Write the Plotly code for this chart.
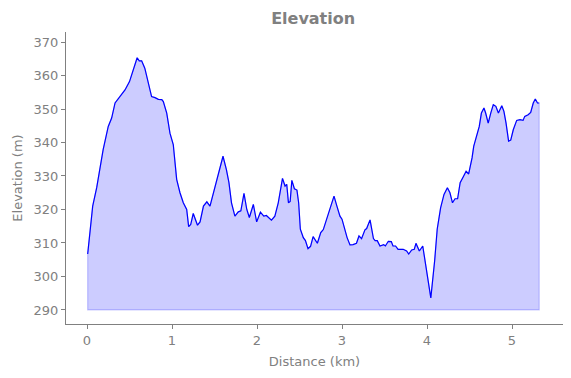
import plotly.graph_objects as go

distance_km = [0.008, 0.035, 0.067, 0.114, 0.145, 0.19, 0.25, 0.29, 0.33, 0.39, 0.447, 0.5, 0.545, 0.59,
               0.615, 0.643, 0.68, 0.72, 0.76, 0.8, 0.84, 0.88, 0.898, 0.938, 0.976, 1.015, 1.035, 1.055,
               1.094, 1.133, 1.173, 1.196, 1.22, 1.25, 1.3, 1.33, 1.37, 1.41, 1.447, 1.486, 1.526, 1.565,
               1.6, 1.64, 1.67, 1.70, 1.74, 1.78, 1.81, 1.847, 1.88, 1.91, 1.957, 1.996, 2.04, 2.08, 2.11,
               2.17, 2.21, 2.25, 2.30, 2.33, 2.35, 2.37, 2.39, 2.41, 2.44, 2.47, 2.49, 2.51, 2.545, 2.57,
               2.60, 2.63, 2.66, 2.71, 2.75, 2.78, 2.82, 2.86, 2.906, 2.94, 2.976, 3.0, 3.035, 3.06, 3.094,
               3.13, 3.17, 3.2, 3.23, 3.27, 3.29, 3.33, 3.37, 3.39, 3.415, 3.447, 3.49, 3.51, 3.545, 3.58,
               3.6, 3.63, 3.66, 3.72, 3.76, 3.785, 3.82, 3.85, 3.87, 3.91, 3.95, 4.0, 4.045, 4.09, 4.12,
               4.16, 4.2, 4.24, 4.27, 4.30, 4.33, 4.36, 4.39, 4.43, 4.46, 4.49, 4.53, 4.55, 4.585, 4.615,
               4.64, 4.67, 4.69, 4.72, 4.75, 4.78, 4.81, 4.84, 4.88, 4.905, 4.93, 4.96, 4.985, 5.015, 5.055,
               5.094, 5.13, 5.15, 5.19, 5.22, 5.25, 5.274, 5.30, 5.32]
elevation_m = [306.7, 314.1, 321.0, 326.5, 331.0, 337.9, 344.8, 347.3, 351.8, 353.7, 355.7, 358.2, 361.7, 365.3,
               364.4, 364.4, 362.2, 357.7, 353.7, 353.4, 352.9, 352.8, 352.2, 348.8, 342.8, 339.4, 333.9, 329.0,
               325.0, 322.0, 320.0, 314.9, 315.5, 318.8, 315.3, 316.3, 321.0, 322.3, 321.0, 325.0, 329.0, 332.9,
               335.9, 331.9, 328.0, 322.0, 318.0, 319.3, 319.6, 324.8, 320.0, 317.6, 321.5, 316.3, 319.2, 318.0, 318.2,
               316.8, 318.0, 322.0, 329.3, 327.0, 327.5, 322.0, 322.4, 328.7, 326.2, 325.8, 322.0, 314.1, 311.6, 310.7,
               308.3, 309.0, 311.9, 309.9, 313.1, 314.0, 317.1, 320.0, 324.0, 321.0, 318.0, 317.1, 313.6, 311.6, 309.4,
               309.5, 309.9, 312.1, 311.3, 313.9, 314.3, 316.9, 311.3, 310.7, 310.7, 309.1, 309.5, 309.1, 310.5, 310.4,
               309.1, 309.1, 308.1, 308.1, 307.6, 306.7, 307.9, 308.1, 309.9, 307.6, 309.1, 301.2, 293.6, 304.7, 314.1,
               320.5, 324.5, 326.5, 325.0, 322.0, 323.2, 323.2, 328.0, 329.9, 331.4, 330.6, 335.4, 338.9, 342.3, 344.8,
               348.8, 350.3, 348.8, 345.8, 348.8, 351.3, 350.8, 348.8, 351.0, 349.3, 345.8, 340.4, 340.7, 343.8, 346.6,
               346.8, 346.6, 347.8, 348.3, 349.0, 351.8, 353.0, 351.8, 351.8]
baseline_m = 290

gray = "#808080"
font = "DejaVu Sans"

fig = go.Figure()
fig.add_trace(go.Scatter(
    x=distance_km + [distance_km[-1], distance_km[0], distance_km[0]],
    y=elevation_m + [baseline_m, baseline_m, elevation_m[0]],
    mode="lines", fill="toself", fillcolor="rgba(0,0,255,0.2)",
    line=dict(color="rgba(0,0,255,0.2)", width=1.2), hoverinfo="skip", showlegend=False))
fig.add_trace(go.Scatter(
    x=distance_km, y=elevation_m, mode="lines",
    line=dict(color="#0000ff", width=1.2), showlegend=False))

axis_common = dict(showline=True, linecolor=gray, linewidth=1, ticks="outside", ticklen=4,
                   tickcolor=gray, tickfont=dict(family=font, size=13, color=gray),
                   showgrid=False, zeroline=False, mirror=False, automargin=False)
fig.update_layout(
    width=563, height=370,
    margin=dict(l=58, r=8, t=24, b=54),
    plot_bgcolor="white", paper_bgcolor="white",
    title=dict(text="<b>Elevation</b>", x=0.542, xanchor="center", y=0.973, yanchor="middle",
               font=dict(family=font, size=16, color=gray)),
    xaxis=dict(range=[-0.247, 5.6], tickvals=[0, 1, 2, 3, 4, 5],
               title=dict(text="Distance (km)", font=dict(family=font, size=13, color=gray), standoff=10),
               **axis_common),
    yaxis=dict(range=[285.8, 373], tickvals=[290, 300, 310, 320, 330, 340, 350, 360, 370],
               title=dict(text="Elevation (m)", font=dict(family=font, size=13, color=gray), standoff=8),
               **axis_common),
)
fig.write_html("out.html")
